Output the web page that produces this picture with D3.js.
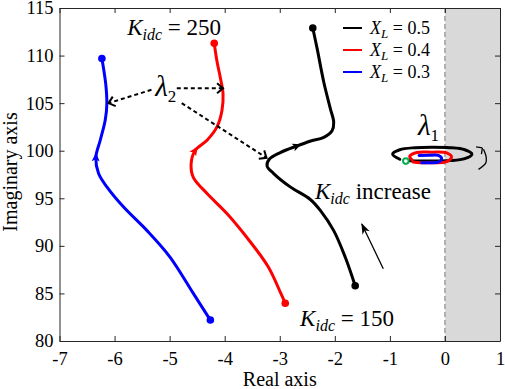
<!DOCTYPE html>
<html><head><meta charset="utf-8">
<script src="https://cdn.jsdelivr.net/npm/d3@7"></script>
<style>
body{margin:0;background:#fff}
svg{display:block}
</style>
</head><body>
<svg id="c" width="505" height="389" style="font-family:'Liberation Serif','Tinos','Times New Roman','DejaVu Serif',serif"></svg>
<script>
// ---------- data ----------
const xTicks = [-7,-6,-5,-4,-3,-2,-1,0,1];
const yTicks = [80,85,90,95,100,105,110,115];
const legendValues = ["0.5","0.4","0.3"];
const seriesColors = ["#000000","#ff0000","#0000ff"];

// eigenvalue lambda2 trajectories (Kidc 150 -> 250)
const locusBlack = [[-1.63,85.8],[-1.81,88.8],[-2.02,91.6],[-2.26,93.7],[-2.45,94.9],[-2.81,96.2],[-3.11,97.6],[-3.23,98.4],[-3.19,99.1],[-2.99,99.8],[-2.69,100.5],[-2.45,101.0],[-2.20,101.4],[-2.05,102.1],[-2.02,103.0],[-2.08,104.4],[-2.20,107.2],[-2.32,110.7],[-2.40,112.9]];
const locusRed = [[-2.90,83.97],[-2.98,85.0],[-3.21,87.8],[-3.60,90.9],[-3.96,93.4],[-4.32,95.5],[-4.57,97.2],[-4.61,98.6],[-4.54,100.0],[-4.32,101.1],[-4.14,102.5],[-4.05,104.2],[-4.03,106.0],[-4.08,107.7],[-4.14,109.4],[-4.19,111.3]];
const locusBlue = [[-4.26,82.2],[-4.57,85.0],[-4.99,88.8],[-5.41,91.6],[-5.84,94.1],[-6.14,96.2],[-6.29,97.6],[-6.34,99.3],[-6.26,101.1],[-6.17,103.2],[-6.14,104.9],[-6.16,107.0],[-6.23,109.7]];
// direction arrow anchors on each locus
const arrowBlack = [-2.69,100.5];
const arrowRed = [-4.54,100.0];
const arrowBlue = [-6.34,99.3];

// eigenvalue lambda1 loops
const loopBlack = [[-0.82,99.1],[-0.95,99.64],[-0.82,100.1],[-0.54,100.32],[-0.24,100.37],[0.09,100.32],[0.36,100.1],[0.49,99.64],[0.36,99.17],[0.09,98.96],[-0.24,98.91],[-0.54,98.92],[-0.74,98.98]];
const loopRed = [[-0.60,99.05],[-0.64,99.4],[-0.51,99.82],[-0.24,99.85],[0.03,99.78],[0.12,99.36],[0.03,98.85],[-0.24,98.74],[-0.45,98.74],[-0.58,98.82]];
const loopBlue = [[-0.47,99.5],[-0.3,99.52],[-0.12,99.5],[-0.06,99.15],[-0.12,98.8],[-0.3,98.74],[-0.42,98.74]];
const startPoint = [-0.71,98.91];

// ---------- layout ----------
const FONT="'Liberation Serif','Tinos','Times New Roman','DejaVu Serif',serif";
const L=59.5,R=500,T=8,B=341;
const x=d3.scaleLinear().domain([-7,1]).range([L,R]);
const y=d3.scaleLinear().domain([80,115]).range([B,T]);
const svg=d3.select("#c");
const axisColor="#262626";

// unstable region shading
svg.append("rect").attr("x",x(0)).attr("y",T).attr("width",x(1)-x(0)).attr("height",B-T).attr("fill","#d9d9d9");
svg.append("line").attr("x1",x(0)).attr("x2",x(0)).attr("y1",T).attr("y2",B)
  .attr("stroke","#8c8c8c").attr("stroke-width",1.2).attr("stroke-dasharray","5,3");

// axes (box style, ticks inside on all sides)
const ax=svg.append("g");
ax.append("g").attr("transform",`translate(0,${B})`).call(d3.axisBottom(x).tickValues(xTicks).tickSizeInner(-5).tickSizeOuter(0).tickPadding(11).tickFormat(d=>d<0?"-"+Math.abs(d):String(d)));
ax.append("g").attr("transform",`translate(0,${T})`).call(d3.axisTop(x).tickValues(xTicks).tickSizeInner(-5).tickSizeOuter(0).tickFormat(""));
ax.append("g").attr("transform",`translate(${L},0)`).call(d3.axisLeft(y).tickValues(yTicks).tickSizeInner(-5).tickSizeOuter(0).tickPadding(6));
ax.append("g").attr("transform",`translate(${R},0)`).call(d3.axisRight(y).tickValues(yTicks).tickSizeInner(-5).tickSizeOuter(0).tickFormat(""));
ax.selectAll("g").attr("font-family",FONT);
ax.selectAll(".domain").attr("stroke",axisColor).attr("stroke-width",1);
ax.selectAll(".tick line").attr("stroke",axisColor).attr("stroke-width",1);
ax.selectAll(".tick text").attr("font-family",FONT).attr("font-size",18.5).attr("fill","#000");

// axis titles
svg.append("text").attr("x",(L+R)/2).attr("y",385.5).attr("text-anchor","middle").attr("font-family",FONT).attr("font-size",20).text("Real axis");
svg.append("text").attr("transform",`translate(17,172) rotate(-90)`).attr("text-anchor","middle").attr("font-family",FONT).attr("font-size",20).text("Imaginary axis");

// ---------- curves ----------
const line=d3.line().x(d=>x(d[0])).y(d=>y(d[1])).curve(d3.curveCatmullRom.alpha(0.5));
const loci=[locusBlack,locusRed,locusBlue];
const arrows=[arrowBlack,arrowRed,arrowBlue];
const g=svg.append("g");
loci.forEach((data,i)=>{
  g.append("path").attr("d",line(data)).attr("fill","none").attr("stroke",seriesColors[i]).attr("stroke-width",3).attr("stroke-linecap","round").attr("stroke-linejoin","round");
  [data[0],data[data.length-1]].forEach(p=>g.append("circle").attr("cx",x(p[0])).attr("cy",y(p[1])).attr("r",3.8).attr("fill",seriesColors[i]));
  const a=arrows[i];
  let k=0,best=1e9;
  data.forEach((p,j)=>{const dd=(p[0]-a[0])**2+(p[1]-a[1])**2; if(dd<best){best=dd;k=j;}});
  const p0=data[Math.max(0,k-1)],p1=data[Math.min(data.length-1,k+1)];
  const ang=Math.atan2(y(p1[1])-y(p0[1]),x(p1[0])-x(p0[0]))*180/Math.PI;
  g.append("path").attr("d","M5,0 L-4,-4 L-2,0 L-4,4 Z").attr("fill",seriesColors[i])
    .attr("transform",`translate(${x(a[0])},${y(a[1])}) rotate(${ang})`);
});

// lambda1 loops
[loopBlack,loopRed,loopBlue].forEach((data,i)=>{
  g.append("path").attr("d",line(data)).attr("fill","none").attr("stroke",seriesColors[i]).attr("stroke-width",3).attr("stroke-linecap","round");
});
g.append("circle").attr("cx",x(startPoint[0])).attr("cy",y(startPoint[1])).attr("r",2.8).attr("fill","#fff").attr("stroke","#00b050").attr("stroke-width",2);

// curved rotation arrow
const rotArc=[[0.61,98.04],[0.74,98.7],[0.75,99.3],[0.70,100.15]];
g.append("path").attr("d",d3.line().x(d=>x(d[0])).y(d=>y(d[1])).curve(d3.curveCatmullRom)(rotArc)).attr("fill","none").attr("stroke","#000").attr("stroke-width",1.3);
g.append("path").attr("d","M0,0 L-6,-2 M0,0 L-2,6").attr("fill","none").attr("stroke","#000").attr("stroke-width",1.3)
  .attr("transform",`translate(${x(0.68)},${y(100.3)}) rotate(-10)`);

// ---------- annotations ----------
const dashed=svg.append("g").attr("stroke","#000").attr("stroke-width",2).attr("stroke-dasharray","4,3").attr("fill","none");
const lam2Arrows=[[[-5.33,106.4],[-6.11,105.0]],[[-4.87,106.57],[-4.03,106.57]],[[-4.78,105.0],[-3.24,99.25]]];
lam2Arrows.forEach(s=>{
  const x1=x(s[0][0]),y1=y(s[0][1]),x2=x(s[1][0]),y2=y(s[1][1]);
  dashed.append("line").attr("x1",x1).attr("y1",y1).attr("x2",x2).attr("y2",y2);
  const ang=Math.atan2(y2-y1,x2-x1)*180/Math.PI;
  svg.append("path").attr("d","M-6,-5 L0,0 L-6,5").attr("fill","none").attr("stroke","#000").attr("stroke-width",2)
    .attr("transform",`translate(${x2},${y2}) rotate(${ang})`);
});

// Kidc increase arrow
const incArrow=[[-1.12,87.6],[-1.51,92.3]];
{
  const x1=x(incArrow[0][0]),y1=y(incArrow[0][1]),x2=x(incArrow[1][0]),y2=y(incArrow[1][1]);
  svg.append("line").attr("x1",x1).attr("y1",y1).attr("x2",x2).attr("y2",y2).attr("stroke","#000").attr("stroke-width",1.3);
  const ang=Math.atan2(y2-y1,x2-x1)*180/Math.PI;
  svg.append("path").attr("d","M1,0 L-10,-4 L-7,0 L-10,4 Z").attr("fill","#000")
    .attr("transform",`translate(${x2},${y2}) rotate(${ang})`);
}

function kLabel(px,py,rest){
  const t=svg.append("text").attr("x",px).attr("y",py).attr("font-family",FONT).attr("font-size",23);
  t.append("tspan").attr("font-style","italic").text("K");
  t.append("tspan").attr("font-style","italic").attr("font-size",16).attr("dy",5).text("idc");
  t.append("tspan").attr("dy",-5).text(rest);
}
kLabel(x(-5.77),y(112.2)," = 250");
kLabel(x(-2.63),y(81.55)," = 150");
kLabel(x(-2.36),y(94.95)," increase");

function lamLabel(px,py,sub){
  const t=svg.append("text").attr("x",px).attr("y",py).attr("font-family",FONT).attr("font-size",29);
  t.append("tspan").attr("font-style","italic").text("\u03bb");
  t.append("tspan").attr("font-size",17).attr("dy",6).text(sub);
}
lamLabel(x(-5.26),y(105.8),"2");
lamLabel(x(-0.49),y(101.7),"1");

// legend
const lg=svg.append("g");
legendValues.forEach((v,i)=>{
  const yy=28+i*22;
  lg.append("line").attr("x1",343).attr("x2",362).attr("y1",yy).attr("y2",yy).attr("stroke",seriesColors[i]).attr("stroke-width",2);
  const t=lg.append("text").attr("x",370).attr("y",yy+6).attr("font-family",FONT).attr("font-size",18);
  t.append("tspan").attr("font-style","italic").text("X");
  t.append("tspan").attr("font-style","italic").attr("font-size",13).attr("dy",4).text("L");
  t.append("tspan").attr("dy",-4).text(" = "+v);
});
</script>
</body></html>
